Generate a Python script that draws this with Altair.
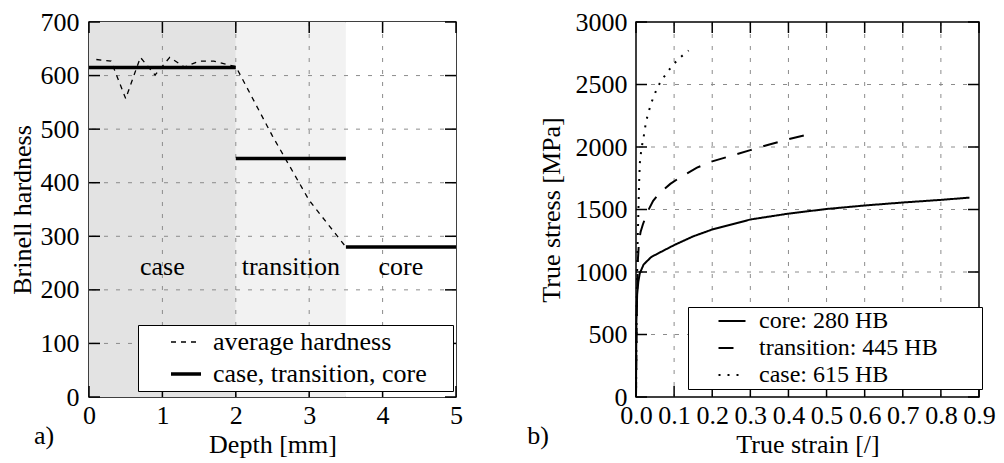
import altair as alt
import pandas as pd

FONT = "Liberation Serif"
FS = 26

# ---------------- panel a) data ----------------
depth_mm = [0.1, 0.3, 0.5, 0.7, 0.9, 1.1, 1.3, 1.5, 1.7, 1.9, 2.0, 2.5, 3.0, 3.5]
avg_hardness = [630, 627, 557, 634, 601, 634, 616, 627, 627, 620, 617, 487, 367, 280]

zone_names = ["case", "transition", "core"]
zone_start = [0.0, 2.0, 3.5]
zone_end = [2.0, 3.5, 5.0]
zone_hardness = [615, 445, 280]

depth_ticks = [0, 1, 2, 3, 4, 5]
hardness_ticks = [0, 100, 200, 300, 400, 500, 600, 700]

legend_a = ["average hardness", "case, transition, core"]

# ---------------- panel b) data ----------------
core_strain = [0, 0.001, 0.003, 0.006, 0.01, 0.02, 0.04, 0.065, 0.1, 0.15, 0.2,
               0.3, 0.4, 0.5, 0.6, 0.7, 0.8, 0.875]
core_stress = [0, 600, 820, 920, 990, 1060, 1120, 1160, 1215, 1285, 1340,
               1420, 1467, 1504, 1532, 1556, 1577, 1595]

trans_strain = [0, 0.002, 0.005, 0.008, 0.012, 0.018, 0.03, 0.045, 0.06, 0.09,
                0.12, 0.16, 0.2, 0.25, 0.3, 0.35, 0.4, 0.45]
trans_stress = [0, 700, 1100, 1250, 1320, 1380, 1480, 1570, 1625, 1705,
                1765, 1835, 1885, 1930, 1975, 2020, 2062, 2100]

case_strain = [0, 0.002, 0.004, 0.006, 0.008, 0.01, 0.013, 0.017, 0.022, 0.026,
               0.033, 0.041, 0.051, 0.063, 0.079, 0.096, 0.115, 0.138]
case_stress = [0, 800, 1200, 1450, 1700, 1870, 1953, 2034, 2113, 2199,
               2281, 2360, 2438, 2514, 2585, 2654, 2714, 2772]

materials = ["core: 280 HB", "transition: 445 HB", "case: 615 HB"]

strain_ticks = [0.0, 0.1, 0.2, 0.3, 0.4, 0.5, 0.6, 0.7, 0.8, 0.9]
stress_ticks = [0, 500, 1000, 1500, 2000, 2500, 3000]

# ---------------- layout constants ----------------
W1, W2, H = 367, 343, 375
TL = 11
GRID = dict(color="#8c8c8c", strokeDash=[4, 8], strokeWidth=1)


def axis(values, title, fmt, lpad, tpad):
    return alt.Axis(values=values, title=title, format=fmt, ticks=False, tickSize=0,
                    domain=False, grid=False, labelFlush=False, labelOverlap=False,
                    labelFont=FONT, labelFontSize=FS, labelColor="black",
                    titleFont=FONT, titleFontSize=FS, titleColor="black",
                    titleFontWeight="normal", labelPadding=lpad, titlePadding=tpad)


AX1 = axis(depth_ticks, "Depth [mm]", "d", 5, 3)
AY1 = axis(hardness_ticks, "Brinell hardness", "d", 10, 5)
AX2 = axis(strain_ticks, "True strain [/]", ".1f", 5, 3)
AY2 = axis(stress_ticks, "True stress [MPa]", "d", 9, 11)


def sx1(field):
    return alt.X(field, type="quantitative",
                 scale=alt.Scale(domain=[0, 5], nice=False, zero=False), axis=AX1)


def sy1(field):
    return alt.Y(field, type="quantitative",
                 scale=alt.Scale(domain=[0, 700], nice=False, zero=False), axis=AY1)


def sx2(field):
    return alt.X(field, type="quantitative",
                 scale=alt.Scale(domain=[0, 0.9], nice=False, zero=False), axis=AX2)


def sy2(field):
    return alt.Y(field, type="quantitative",
                 scale=alt.Scale(domain=[0, 3000], nice=False, zero=False), axis=AY2)


def frame_ticks(xvals, yvals, sx, sy, W):
    dx = pd.DataFrame({"v": xvals})
    dy = pd.DataFrame({"v": yvals})
    base_x = alt.Chart(dx).mark_rule(color="black", strokeWidth=1.5)
    base_y = alt.Chart(dy).mark_rule(color="black", strokeWidth=1.5)
    return [
        base_x.encode(x=sx("v"), y=alt.value(0), y2=alt.value(TL)),
        base_x.encode(x=sx("v"), y=alt.value(H - TL), y2=alt.value(H)),
        base_y.encode(y=sy("v"), x=alt.value(0), x2=alt.value(TL)),
        base_y.encode(y=sy("v"), x=alt.value(W - TL), x2=alt.value(W)),
    ]


def grid_layers(xvals, yvals, sx, sy):
    gx = alt.Chart(pd.DataFrame({"v": xvals[1:-1]})).mark_rule(**GRID).encode(x=sx("v"))
    gy = alt.Chart(pd.DataFrame({"v": yvals[1:-1]})).mark_rule(**GRID).encode(y=sy("v"))
    return [gx, gy]


# ---------------- panel a) ----------------
zones = pd.DataFrame({"zone": zone_names, "start": zone_start, "end": zone_end,
                      "hb": zone_hardness, "series": legend_a[1]})
avg = pd.DataFrame({"depth": depth_mm, "hb": avg_hardness, "series": legend_a[0]})

leg_a = alt.Legend(title="\u00a0", titleOrient="right", titlePadding=22, titleFontSize=FS,
                   orient="none", legendX=49, legendY=303,
                   fillColor="white", strokeColor="black", padding=4, rowPadding=6,
                   symbolType="M-1.5,0L1.5,0", symbolSize=400, symbolStrokeColor="black",
                   symbolFillColor="transparent", symbolOffset=31, labelOffset=14,
                   labelFont=FONT, labelFontSize=FS, labelColor="black", labelLimit=0)

dash_a = alt.StrokeDash("series:N", scale=alt.Scale(domain=legend_a, range=[[5, 5], [1, 0]]),
                        legend=leg_a)
width_a = alt.StrokeWidth("series:N", scale=alt.Scale(domain=legend_a, range=[1.3, 3.5]),
                          legend=leg_a)

bg = alt.Chart(zones).mark_rect().encode(
    x=sx1("start"), x2="end", y=alt.value(0), y2=alt.value(H),
    fill=alt.Fill("zone:N", scale=alt.Scale(domain=zone_names,
                                            range=["#e3e3e3", "#f2f2f2", "#ffffff"]),
                  legend=None))

avg_line = alt.Chart(avg).mark_line(color="black").encode(
    x=sx1("depth"), y=sy1("hb"), strokeDash=dash_a, strokeWidth=width_a)

zone_rules = alt.Chart(zones).mark_rule(color="black").encode(
    x=sx1("start"), x2="end", y=sy1("hb"), strokeDash=dash_a, strokeWidth=width_a)

zone_text = alt.Chart(zones).transform_calculate(mid="(datum.start + datum.end) / 2").mark_text(
    font=FONT, fontSize=FS, color="black", baseline="middle").encode(
    x=sx1("mid"), y=alt.value(245), text="zone:N")

tag_a = alt.Chart(pd.DataFrame({"t": ["a)"]})).mark_text(
    font=FONT, fontSize=FS, color="black", baseline="middle").encode(
    x=alt.value(-45), y=alt.value(414), text="t:N")

left = alt.layer(bg, *grid_layers(depth_ticks, hardness_ticks, sx1, sy1),
                 zone_text, avg_line, zone_rules,
                 *frame_ticks(depth_ticks, hardness_ticks, sx1, sy1, W1),
                 tag_a).properties(width=W1, height=H)

# ---------------- panel b) ----------------
curves = pd.concat([
    pd.DataFrame({"strain": core_strain, "stress": core_stress, "mat": materials[0]}),
    pd.DataFrame({"strain": trans_strain, "stress": trans_stress, "mat": materials[1]}),
    pd.DataFrame({"strain": case_strain, "stress": case_stress, "mat": materials[2]}),
], ignore_index=True)

leg_b = alt.Legend(title="\u00a0", titleOrient="right", titlePadding=42, titleFontSize=FS,
                   orient="none", legendX=52, legendY=285,
                   fillColor="white", strokeColor="black", padding=2, rowPadding=3,
                   symbolType="M-1.5,0L1.5,0", symbolSize=324, symbolStrokeColor="black",
                   symbolFillColor="transparent", symbolStrokeWidth=2,
                   symbolOffset=30, labelOffset=15,
                   labelFont=FONT, labelFontSize=24, labelColor="black", labelLimit=0)

curve_lines = alt.Chart(curves).mark_line(color="black", strokeWidth=2).encode(
    x=sx2("strain"), y=sy2("stress"),
    strokeDash=alt.StrokeDash("mat:N", scale=alt.Scale(domain=materials,
                                                       range=[[1, 0], [15, 12], [2, 7]]),
                              legend=leg_b),
    order="strain:Q")

tag_b = alt.Chart(pd.DataFrame({"t": ["b)"]})).mark_text(
    font=FONT, fontSize=FS, color="black", baseline="middle").encode(
    x=alt.value(-98), y=alt.value(414), text="t:N")

right = alt.layer(*grid_layers(strain_ticks, stress_ticks, sx2, sy2),
                  curve_lines,
                  *frame_ticks(strain_ticks, stress_ticks, sx2, sy2, W2),
                  tag_b).properties(width=W2, height=H)

chart = alt.hconcat(left, right, spacing=62).resolve_scale(
    strokeDash="independent", strokeWidth="independent", fill="independent"
).configure_view(stroke="black", strokeWidth=1.5).properties(
    padding={"left": 0, "top": 0, "right": 0, "bottom": 0})

chart.save("out.html", embed_options={"renderer": "svg", "actions": False})
